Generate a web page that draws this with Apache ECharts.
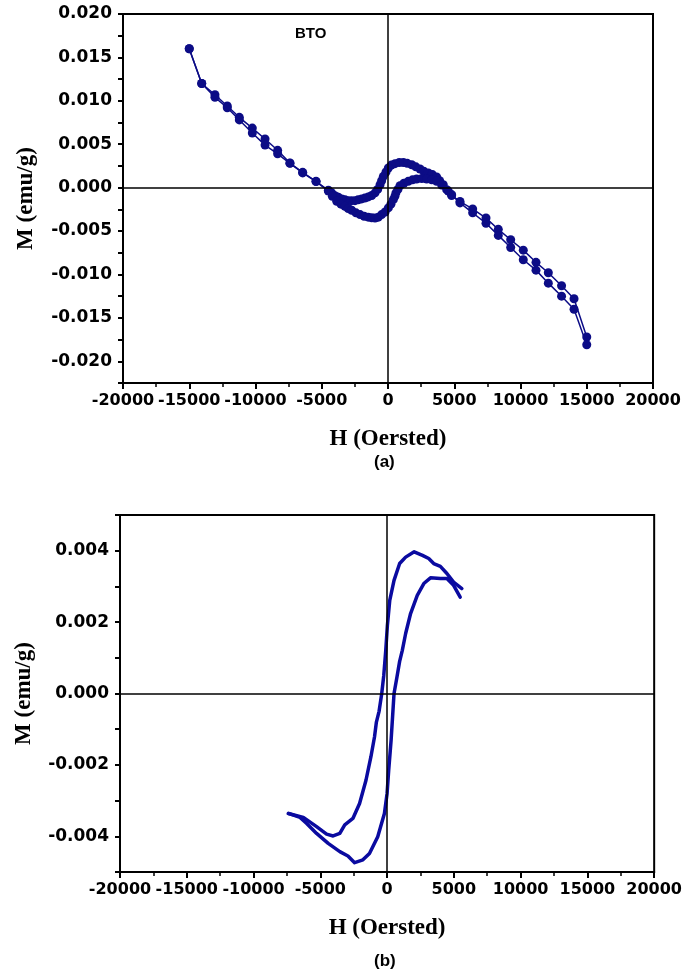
<!DOCTYPE html>
<html>
<head>
<meta charset="utf-8">
<script src="https://cdn.jsdelivr.net/npm/echarts@6/dist/echarts.min.js"></script>
<style>
html,body{margin:0;padding:0;background:#fff;}
#chart{width:685px;height:974px;}
</style>
</head>
<body>
<div id="chart"></div>
<script>
// Panel (a): BTO M-H loop with markers
const aDescH = [15000,14040,13100,12100,11170,10210,9260,8325,7396,6390,5434,4800,4550,4170,3900,3670,3350,3040,2700,2420,2100,1790,1450,1160,850,530,250,25,-150,-350,-480,-600,-780,-980,-1230,-1490,-1750,-1990,-2250,-2490,-2750,-3000,-3250,-3490,-3750,-4000,-4250,-4500,-5430,-6440,-7400,-8330,-9280,-10240,-11220,-12130,-13060,-14060,-15000];
const aDescM = [-0.0172,-0.0128,-0.0113,-0.0098,-0.0086,-0.0072,-0.0060,-0.0048,-0.0035,-0.00245,-0.0016,-0.0009,-0.0004,0.00034,0.0008,0.00123,0.0015,0.00169,0.0019,0.00215,0.0024,0.00264,0.0028,0.0029,0.0029,0.00276,0.0026,0.00226,0.0018,0.0013,0.0008,0.00034,-0.0002,-0.0006,-0.0009,-0.00107,-0.0012,-0.0013,-0.0014,-0.0015,-0.0015,-0.0015,-0.0014,-0.0013,-0.0011,-0.00092,-0.0006,-0.0003,0.00073,0.00176,0.00284,0.0043,0.0056,0.00686,0.0081,0.0094,0.0107,0.0120,0.0160];
const aAscH = [-15000,-14060,-13060,-12130,-11220,-10240,-9280,-8330,-7400,-6440,-5430,-4500,-4200,-3870,-3550,-3250,-3000,-2740,-2420,-2110,-1800,-1490,-1230,-980,-730,-480,-220,25,220,400,520,600,750,905,1200,1530,1850,2160,2550,2920,3300,3670,4050,4430,4800,5434,6390,7396,8325,9260,10210,11170,12100,13100,14040,15000];
const aAscM = [0.0160,0.0120,0.0104,0.0092,0.0078,0.0063,0.0049,0.0039,0.0028,0.0017,0.0007,-0.0004,-0.0010,-0.00157,-0.0019,-0.00215,-0.0024,-0.0026,-0.0029,-0.0031,-0.0033,-0.0034,-0.00347,-0.0035,-0.0034,-0.0031,-0.0028,-0.00233,-0.0019,-0.00138,-0.001,-0.0006,-0.0002,0.00023,0.0005,0.00073,0.0009,0.0010,0.00105,0.0010,0.0009,0.00073,0.0003,-0.00023,-0.0008,-0.00176,-0.0029,-0.0041,-0.0055,-0.0069,-0.0083,-0.0095,-0.0110,-0.0125,-0.0140,-0.0181];

// Panel (b): loop drawn as a line
const bOuterH = [5600,4980,4480,3990,3490,3120,2650,2030,1390,940,520,200,22,-100,-250,-400,-600,-800,-940,-1210,-1580,-2060,-2560,-3170,-3540,-4040,-4530,-5280,-6270,-7390];
const bOuterM = [0.00294,0.00312,0.00336,0.00356,0.00364,0.00378,0.00387,0.00397,0.00382,0.00364,0.00317,0.00261,0.0019,0.0012,0.0005,0.0,-0.0005,-0.0008,-0.00121,-0.00177,-0.00243,-0.00308,-0.0035,-0.00368,-0.00392,-0.00399,-0.00394,-0.00373,-0.00347,-0.00336];
const bInnerH = [-7390,-6520,-6020,-5280,-4410,-3540,-2930,-2430,-1810,-1320,-700,-200,0,120,300,420,520,720,940,1140,1390,1760,2260,2750,3250,3990,4480,4980,5475];
const bInnerM = [-0.00336,-0.00347,-0.00364,-0.00392,-0.0042,-0.00443,-0.00455,-0.00474,-0.00466,-0.00448,-0.00401,-0.00336,-0.0028,-0.00215,-0.00131,-0.0006,0.0,0.00042,0.0009,0.00121,0.00168,0.00224,0.00275,0.00308,0.00324,0.00322,0.00322,0.00303,0.0027];

const xTicks = {min:-20000, max:20000, interval:5000};
const aY = {min:-0.0225, max:0.02, interval:0.0025, labelStep:0.005};
const bY = {min:-0.005, max:0.005, interval:0.001, labelStep:0.002};

const zip = (h, m) => h.map((v, i) => [v, m[i]]);

const xFont = {fontFamily:'DejaVu Sans', fontWeight:'bold', fontSize:16, color:'#000'};
const yFont = {fontFamily:'DejaVu Sans', fontWeight:'bold', fontSize:17, color:'#000'};
const nameFont = {fontFamily:'Liberation Serif', fontWeight:'bold', fontSize:23, color:'#000'};

function yLabel(cfg){
  return function(v){
    const k = v / cfg.labelStep;
    if (Math.abs(k - Math.round(k)) > 1e-6) return '';
    return (Math.round(k) * cfg.labelStep).toFixed(3);
  };
}

function xAxisDef(gi, gap){
  return {
    type:'value', gridIndex:gi, min:xTicks.min, max:xTicks.max, interval:xTicks.interval,
    name:'H (Oersted)', nameLocation:'middle', nameGap:gap, nameTextStyle:nameFont,
    axisLine:{show:true, onZero:false, lineStyle:{color:'#000', width:2}},
    axisTick:{show:true, inside:false, length:6, lineStyle:{color:'#000', width:2}},
    minorTick:{show:true, splitNumber:2, length:4, lineStyle:{color:'#000', width:1.5}},
    axisLabel:{...xFont, margin:10, showMinLabel:true, showMaxLabel:true, hideOverlap:false,
      formatter:function(v){ return String(Math.round(v)); }},
    splitLine:{show:false}
  };
}
function yAxisDef(gi, cfg, gap){
  return {
    type:'value', gridIndex:gi, min:cfg.min, max:cfg.max, interval:cfg.interval,
    name:'M (emu/g)', nameLocation:'middle', nameGap:gap, nameTextStyle:nameFont,
    axisLine:{show:true, onZero:false, lineStyle:{color:'#000', width:2}},
    axisTick:{show:true, inside:false, length:5, lineStyle:{color:'#000', width:2}},
    axisLabel:{...yFont, margin:11, showMinLabel:true, showMaxLabel:true, formatter:yLabel(cfg)},
    splitLine:{show:false}
  };
}

const zeroLines = {
  silent:true, symbol:['none','none'], label:{show:false},
  lineStyle:{color:'#000', type:'solid', width:1.5},
  emphasis:{disabled:true},
  data:[{yAxis:0},{xAxis:0}]
};

const blueA = '#0c0c86';
const blueB = '#0a0aa0';

const option = {
  animation:false,
  backgroundColor:'#fff',
  grid:[
    {left:123, top:14, width:530, height:369, show:true, borderColor:'#000', borderWidth:2, backgroundColor:'transparent'},
    {left:120, top:515, width:537, height:357, show:true, borderColor:'#000', borderWidth:2, backgroundColor:'transparent'}
  ],
  xAxis:[xAxisDef(0, 45), xAxisDef(1, 45)],
  yAxis:[yAxisDef(0, aY, 85), yAxisDef(1, bY, 84)],
  graphic:[
    {type:'text', left:295, top:26, style:{text:'BTO', font:'bold 15px "Liberation Sans"', fill:'#000'}},
    {type:'text', left:374, top:454, style:{text:'(a)', font:'bold 17px "Liberation Sans"', fill:'#000'}},
    {type:'text', left:374, top:953, style:{text:'(b)', font:'bold 17px "Liberation Sans"', fill:'#000'}}
  ],
  series:[
    {type:'line', xAxisIndex:0, yAxisIndex:0, data:zip(aDescH, aDescM),
     symbol:'circle', symbolSize:9, showAllSymbol:true,
     itemStyle:{color:blueA}, lineStyle:{color:blueA, width:1.5},
     markLine:zeroLines, z:3},
    {type:'line', xAxisIndex:0, yAxisIndex:0, data:zip(aAscH, aAscM),
     symbol:'circle', symbolSize:9, showAllSymbol:true,
     itemStyle:{color:blueA}, lineStyle:{color:blueA, width:1.5}, z:3},
    {type:'line', xAxisIndex:1, yAxisIndex:1, data:zip(bOuterH, bOuterM),
     symbol:'none', lineStyle:{color:blueB, width:3.5, join:'round', cap:'round'},
     markLine:zeroLines, z:3},
    {type:'line', xAxisIndex:1, yAxisIndex:1, data:zip(bInnerH, bInnerM),
     symbol:'none', lineStyle:{color:blueB, width:3.5, join:'round', cap:'round'}, z:3}
  ]
};

const chart = echarts.init(document.getElementById('chart'), null, {renderer:'canvas'});
chart.setOption(option);
</script>
</body>
</html>
